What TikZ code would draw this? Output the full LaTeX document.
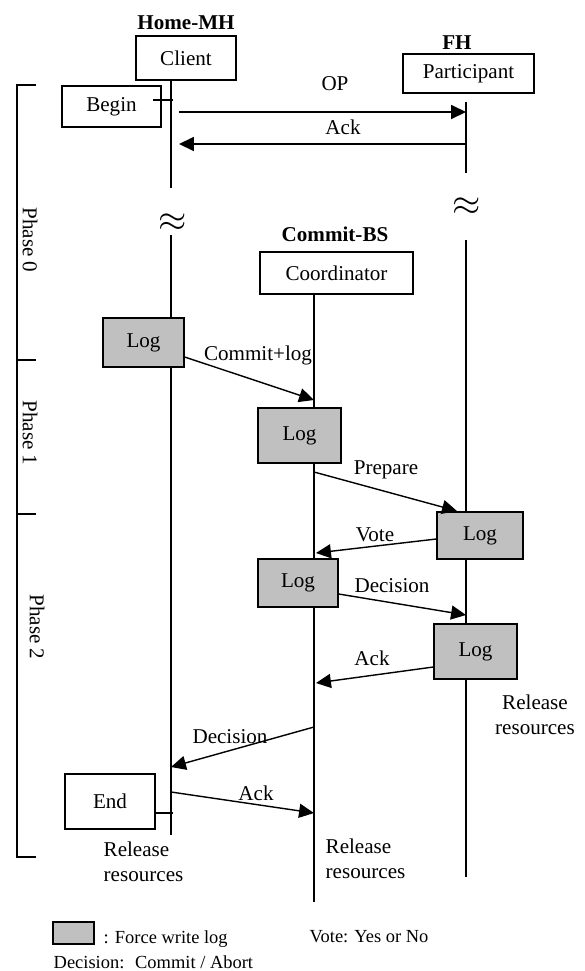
\documentclass[tikz,border=0pt]{standalone}
\usepackage{fontspec}
\setmainfont{Liberation Serif}
\usetikzlibrary{arrows.meta, positioning}
\definecolor{loggray}{RGB}{192,192,192}

\begin{document}
\begin{tikzpicture}[
    x=0.02cm, y=-0.02cm,
    line width=0.8pt,
    box/.style={rectangle, draw, fill=white, inner sep=0pt, font=\fontsize{12}{14}\selectfont},
    logbox/.style={box, fill=loggray},
    head/.style={font=\fontsize{12}{14}\selectfont\bfseries, inner sep=1pt},
    msg/.style={font=\fontsize{12}{14}\selectfont, inner sep=1pt},
    note/.style={font=\fontsize{12}{14}\selectfont, align=left, inner sep=0pt},
    legend/.style={font=\fontsize{10.5}{12.5}\selectfont, inner sep=0pt},
    arrow/.style={-{Triangle[length=8.5pt, width=8pt]}, line width=0.8pt}
]
\useasboundingbox (0,0) rectangle (585,971);

\def\xcl{171}
\def\xco{314}
\def\xpa{466}

% lifelines
\draw (\xcl,80) -- (\xcl,188);
\draw (\xcl,235) -- (\xcl,835);
\draw (\xpa,102) -- (\xpa,173);
\draw (\xpa,240) -- (\xpa,877);
\draw (\xco,294) -- (\xco,902);
\node[font=\fontsize{20}{20}\selectfont, inner sep=0pt] (brk1) at (173,223) {$\approx$};
\node[font=\fontsize{20}{20}\selectfont, inner sep=0pt] (brk2) at (467,207) {$\approx$};

% phases
\draw (36,85) -- (17,85) -- (17,857) -- (36,857);
\draw (17,360) -- (36,360);
\draw (17,514) -- (36,514);
\node[msg, rotate=-90] (ph0) at (30,240) {Phase 0};
\node[msg, rotate=-90] (ph1) at (30,433) {Phase 1};
\node[msg, rotate=-90] (ph2) at (37,627) {Phase 2};

% hosts
\node[box, minimum width=2cm, minimum height=0.88cm] (client) at (186,58) {Client};
\node[head, above=2pt of client] (mh) {Home-MH};
\node[box, minimum width=2.62cm, minimum height=0.78cm] (part) at (468.5,73.5) {Participant};
\node[head] (fh) at (457,43) {FH};
\node[box, minimum width=3.06cm, minimum height=0.84cm] (coord) at (336.5,273) {Coordinator};
\node[head] (bs) at (335,234) {Commit-BS};

\node[box, minimum width=1.98cm, minimum height=0.82cm] (begin) at (111.5,106.5) {Begin};
\node[box, minimum width=1.8cm, minimum height=1.1cm] (end) at (110,801.5) {End};
\draw (153,100) -- (173,100);
\draw (end.east |- 0,813) -- (173,813);

% log boxes
\node[logbox, minimum width=1.62cm, minimum height=0.98cm] (log1) at (143.5,342.5) {Log};
\node[logbox, minimum width=1.66cm, minimum height=1.1cm] (log2) at (299.5,435.5) {Log};
\node[logbox, minimum width=1.72cm, minimum height=0.94cm] (log3) at (480,535.5) {Log};
\node[logbox, minimum width=1.6cm, minimum height=0.96cm] (log4) at (298,583) {Log};
\node[logbox, minimum width=1.66cm, minimum height=1.1cm] (log5) at (475.5,651.5) {Log};

% message ends
\coordinate (op1) at (179,112);
\coordinate (op2) at (\xpa,112);
\coordinate (ak1) at (\xpa,144);
\coordinate (ak2) at (179,144);
\coordinate (cm1) at (log1.east |- 0,357);
\coordinate (cm2) at (\xco,400);
\coordinate (pr1) at (\xco,472);
\coordinate (pr2) at (457,511);
\coordinate (vo1) at (log3.west |- 0,539);
\coordinate (vo2) at (316,553);
\coordinate (de1) at (log4.east |- 0,594);
\coordinate (de2) at (\xpa,615);
\coordinate (ac1) at (log5.west |- 0,667);
\coordinate (ac2) at (316,683);
\coordinate (dc1) at (\xco,727);
\coordinate (dc2) at (\xcl,767);
\coordinate (ae1) at (\xcl,792);
\coordinate (ae2) at (\xco,813);

% messages
\draw[arrow] (op1) -- (op2);
\draw[arrow] (ak1) -- (ak2);
\draw[arrow] (cm1) -- (cm2);
\draw[arrow] (pr1) -- (pr2);
\draw[arrow] (vo1) -- (vo2);
\draw[arrow] (de1) -- (de2);
\draw[arrow] (ac1) -- (ac2);
\draw[arrow] (dc1) -- (dc2);
\draw[arrow] (ae1) -- (ae2);

\node[msg] (l-op) at (335,84) {OP};
\node[msg] (l-ak) at (343,127) {Ack};
\node[msg] (l-cm) at (258,355) {Commit+log};
\node[msg] (l-pr) at (386,470) {Prepare};
\node[msg] (l-vo) at (375,535) {Vote};
\node[msg] (l-de) at (392,586) {Decision};
\node[msg] (l-ac) at (372,658) {Ack};
\node[msg] (l-dc) at (230,737) {Decision};
\node[msg] (l-ae) at (256,793) {Ack};

% release
\node[note, align=center] (rel-pa) at (535,715) {Release\\resources};
\node[note, anchor=west] (rel-cl) at (103,862) {Release\\resources};
\node[note, anchor=west] (rel-co) at (325,859) {Release\\resources};

% legend
\node[logbox, minimum width=0.82cm, minimum height=0.44cm] (key) at (73.5,933) {};
\node[legend, anchor=west] (key-t) at (103,939) {: Force write log};
\node[legend, anchor=west] (dec-t) at (53,962) {Decision:~ Commit / Abort};
\node[legend, anchor=west] (vote-t) at (309,937) {Vote: Yes or No};

\end{tikzpicture}
\end{document}
